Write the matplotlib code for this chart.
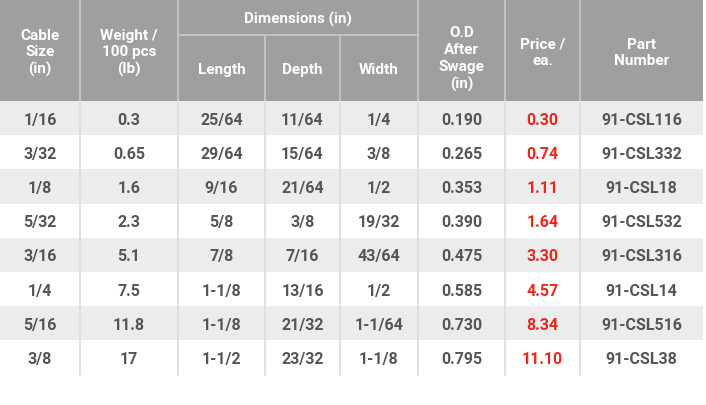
import matplotlib
matplotlib.use("Agg")
import matplotlib.pyplot as plt
from matplotlib.patches import Rectangle

cable = ["1/16","3/32","1/8","5/32","3/16","1/4","5/16","3/8"]
weight = ["0.3","0.65","1.6","2.3","5.1","7.5","11.8","17"]
length = ["25/64","29/64","9/16","5/8","7/8","1-1/8","1-1/8","1-1/2"]
depth = ["11/64","15/64","21/64","3/8","7/16","13/16","21/32","23/32"]
width = ["1/4","3/8","1/2","19/32","43/64","1/2","1-1/64","1-1/8"]
od = ["0.190","0.265","0.353","0.390","0.475","0.585","0.730","0.795"]
price = ["0.30","0.74","1.11","1.64","3.30","4.57","8.34","11.10"]
part = ["91-CSL116","91-CSL332","91-CSL18","91-CSL532","91-CSL316","91-CSL14","91-CSL516","91-CSL38"]

W, H = 706, 406
fig = plt.figure(figsize=(W/100, H/100), dpi=100)
ax = fig.add_axes([0, 0, 1, 1])
ax.set_xlim(0, W); ax.set_ylim(H, 0); ax.axis("off")

xs = [0, 80, 178, 265, 340, 418, 505, 580, 703]
hdr_bg = "#a09f9f"; line_c = "#c8c8c8"; txt = "#555555"
font = "Roboto"
top, split, hb = 0, 36, 102
rh = 34.2

ax.add_patch(Rectangle((0, top), xs[-1], hb - top, color=hdr_bg, lw=0))
def hl(x0, x1, y): ax.plot([x0, x1], [y, y], color=line_c, lw=1.2)
def vl(x, y0, y1, c=line_c): ax.plot([x, x], [y0, y1], color=c, lw=1.2)
hl(178, 418, split)
for i, x in enumerate(xs[1:-1], 1):
    vl(x, split if x in (265, 340) else top, hb)

def ht(x, y, s):
    ax.text(x, y, s, ha="center", va="center", color="white", fontsize=11,
            fontweight="bold", family=font, linespacing=1.25)
ht(40, 53, "Cable\nSize\n(in)")
ht(129, 53, "Weight /\n100 pcs\n(lb)")
ht(298, 19, "Dimensions (in)")
ht(221.5, 70, "Length"); ht(302.5, 70, "Depth"); ht(379, 70, "Width")
ht(461.5, 59, "O.D\nAfter\nSwage\n(in)")
ht(542.5, 53, "Price /\nea.")
ht(641.5, 53, "Part\nNumber")

cols = [cable, weight, length, depth, width, od, price, part]
for r in range(len(cable)):
    y0 = hb + r * rh
    ax.add_patch(Rectangle((0, y0), xs[-1], rh, color="#ececec" if r % 2 == 0 else "white", lw=0))
    for c, col in enumerate(cols):
        ax.text((xs[c] + xs[c+1]) / 2, y0 + rh / 2 + 1, col[r], ha="center", va="center",
                fontsize=11.5, fontweight="bold", family=font,
                color="#e8281e" if c == 6 else txt)
yb = hb + len(cable) * rh
for x in xs[1:-1]:
    vl(x, hb, yb, "#dcdcdc")

fig.savefig("out.png", dpi=100)
